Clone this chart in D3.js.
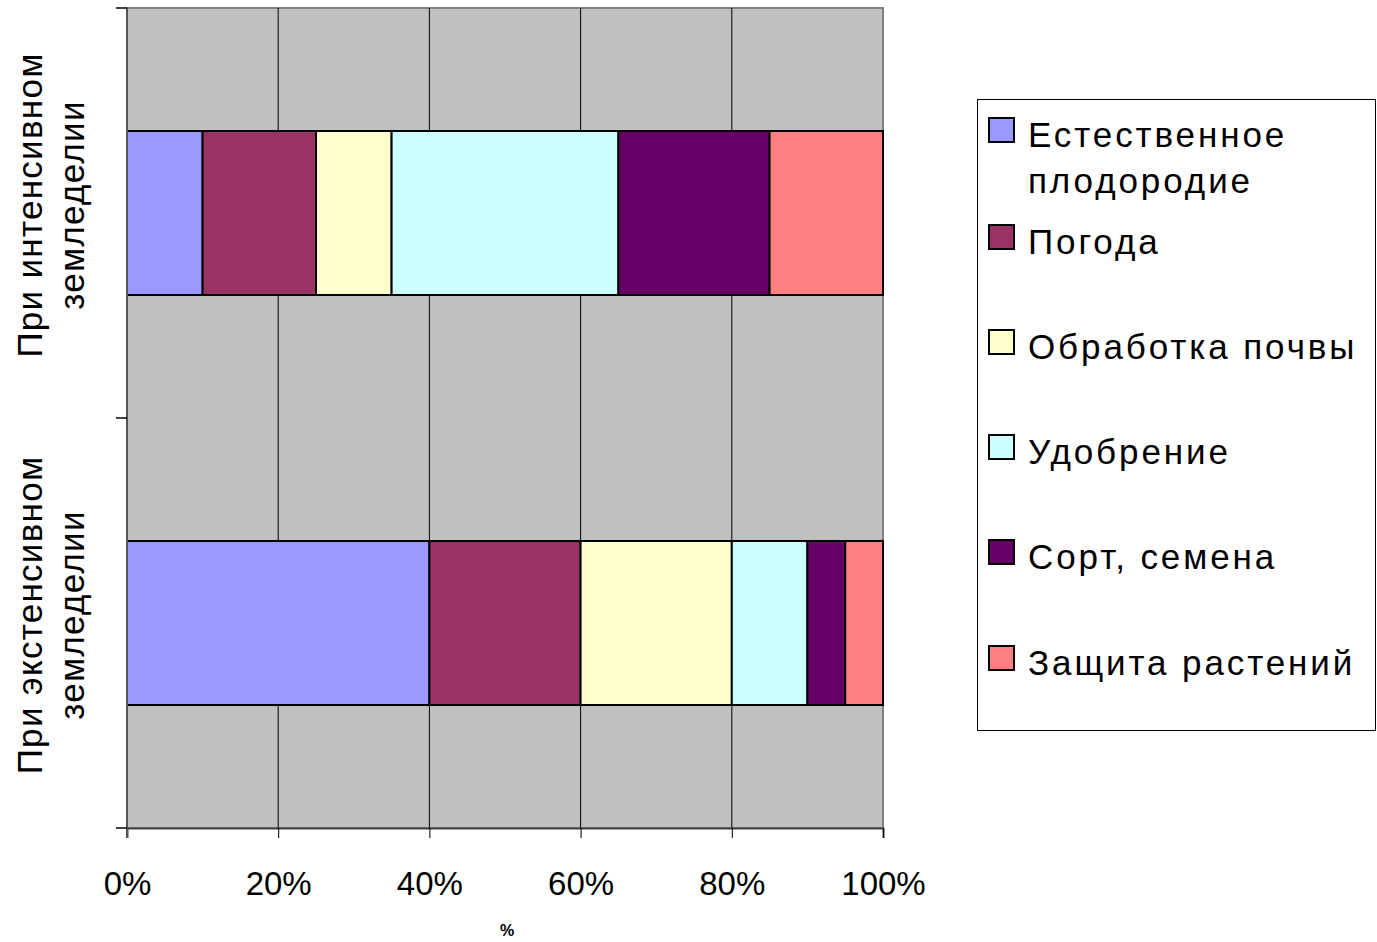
<!DOCTYPE html>
<html>
<head>
<meta charset="utf-8">
<script src="https://cdn.jsdelivr.net/npm/d3@7"></script>
<style>
  html, body { margin: 0; padding: 0; background: #fff; }
  svg { display: block; font-family: "Liberation Sans", Arial, sans-serif; }
</style>
</head>
<body>
<svg id="chart" width="1377" height="942"></svg>
<script>
// Categories (two farming systems), each split into factor shares, %
const categories = ["При интенсивном земледелии", "При экстенсивном земледелии"];
const categoryLines = [["При интенсивном", "земледелии"], ["При экстенсивном", "земледелии"]];
const seriesNames = ["Естественное плодородие", "Погода", "Обработка почвы", "Удобрение", "Сорт, семена", "Защита растений"];
const legendLines = [["Естественное", "плодородие"], ["Погода"], ["Обработка почвы"], ["Удобрение"], ["Сорт, семена"], ["Защита растений"]];
const intensiveValues = [10, 15, 10, 30, 20, 15];
const extensiveValues = [40, 20, 20, 10, 5, 5];
const seriesColors = ["#9999FF", "#993366", "#FFFFCC", "#CCFFFF", "#660066", "#FF8080"];
const xTicks = [0, 20, 40, 60, 80, 100];

const svg = d3.select("#chart");
const plot = { left: 127, right: 883, top: 8, bottom: 828 };

const rows = categories.map((c, i) => {
  const row = { category: c };
  const vals = i === 0 ? intensiveValues : extensiveValues;
  seriesNames.forEach((s, j) => row[s] = vals[j]);
  return row;
});

const x = d3.scaleLinear().domain([0, 100]).range([plot.left, plot.right]);
const y = d3.scaleBand().domain(categories).range([plot.top, plot.bottom])
  .paddingInner(0.6).paddingOuter(0.3);
const color = d3.scaleOrdinal().domain(seriesNames).range(seriesColors);

// Plot area background
svg.append("rect")
  .attr("x", plot.left).attr("y", plot.top)
  .attr("width", plot.right - plot.left).attr("height", plot.bottom - plot.top)
  .attr("fill", "#C0C0C0").attr("stroke", "#808080").attr("stroke-width", 2);

// Vertical gridlines
svg.append("g").selectAll("line")
  .data(xTicks.filter(t => t > 0 && t < 100))
  .join("line")
  .attr("x1", d => x(d)).attr("x2", d => x(d))
  .attr("y1", plot.top).attr("y2", plot.bottom)
  .attr("stroke", "#000").attr("stroke-width", 1);

// Stacked bars
const stack = d3.stack().keys(seriesNames);
const layers = stack(rows);
svg.append("g").selectAll("g")
  .data(layers)
  .join("g")
  .attr("fill", d => color(d.key))
  .selectAll("rect")
  .data(d => d.map(p => ({ p, cat: p.data.category })))
  .join("rect")
  .attr("x", d => x(d.p[0]))
  .attr("y", d => y(d.cat))
  .attr("width", d => x(d.p[1]) - x(d.p[0]))
  .attr("height", y.bandwidth())
  .attr("stroke", "#000").attr("stroke-width", 2);

// X axis
const xAxis = d3.axisBottom(x).tickValues(xTicks).tickFormat(d => d + "%").tickSize(10).tickPadding(34);
const gx = svg.append("g").attr("transform", `translate(0,${plot.bottom})`).call(xAxis);
gx.select(".domain").attr("stroke", "#444").attr("stroke-width", 2);
gx.selectAll(".tick line").attr("stroke", "#000");
gx.selectAll(".tick text").attr("font-size", 33).attr("fill", "#000")
  .attr("font-family", "'Liberation Sans', Arial, sans-serif");

svg.append("text")
  .attr("x", (plot.left + plot.right) / 2 + 2).attr("y", 936)
  .attr("text-anchor", "middle").attr("font-size", 16).attr("font-weight", "bold")
  .text("%");

// Y axis: line, boundary ticks, category labels
const boundaries = [y.range()[0], ...categories.slice(1).map(c => y(c) - y.step() * y.paddingInner() / 2), y.range()[1]];
const gy = svg.append("g");
gy.append("line")
  .attr("x1", plot.left).attr("x2", plot.left)
  .attr("y1", plot.top).attr("y2", plot.bottom + 10)
  .attr("stroke", "#555").attr("stroke-width", 2);
gy.selectAll("line.tick")
  .data(boundaries)
  .join("line").attr("class", "tick")
  .attr("x1", plot.left - 11).attr("x2", plot.left)
  .attr("y1", d => d).attr("y2", d => d)
  .attr("stroke", "#000").attr("stroke-width", 1.5);

categories.forEach((c, i) => {
  const cy = y(c) + y.bandwidth() / 2 - 8;
  const t = gy.append("text")
    .attr("transform", `translate(52,${cy}) rotate(-90)`)
    .attr("text-anchor", "middle").attr("font-size", 35).attr("fill", "#000")
    .attr("letter-spacing", 1.3);
  categoryLines[i].forEach((line, k) => {
    t.append("tspan").attr("x", 0).attr("dy", k === 0 ? -10 : 42).text(line);
  });
});

// Legend
const legend = svg.append("g");
legend.append("rect")
  .attr("x", 977.5).attr("y", 99.5).attr("width", 398).attr("height", 631)
  .attr("fill", "#fff").attr("stroke", "#000").attr("stroke-width", 1);

const itemTop = [118, 225, 330, 435, 540, 646];
seriesNames.forEach((s, i) => {
  const g = legend.append("g");
  g.append("rect")
    .attr("x", 989).attr("y", itemTop[i])
    .attr("width", 25).attr("height", 24)
    .attr("fill", color(s)).attr("stroke", "#000").attr("stroke-width", 2);
  const t = g.append("text").attr("font-size", 35).attr("fill", "#000")
    .attr("letter-spacing", 2.9);
  legendLines[i].forEach((line, k) => {
    t.append("tspan").attr("x", 1028).attr("y", itemTop[i] + 29 + k * 46).text(line);
  });
});
</script>
</body>
</html>
